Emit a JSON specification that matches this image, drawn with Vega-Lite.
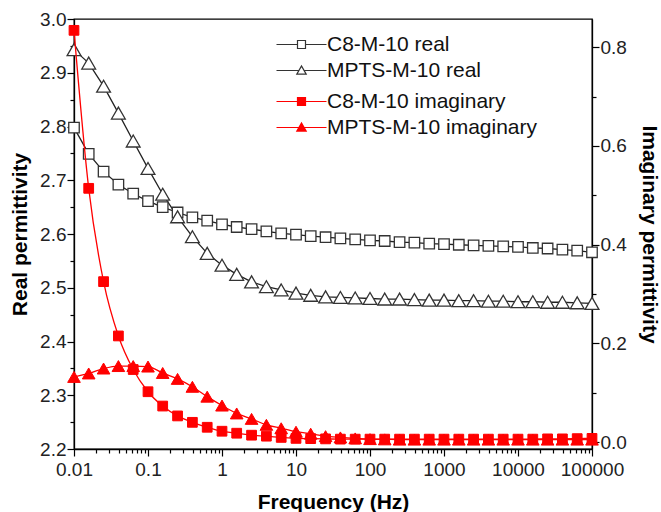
{
  "$schema": "https://vega.github.io/schema/vega-lite/v6.json",
  "width": 518,
  "height": 430,
  "autosize": "none",
  "padding": {"left": 74, "top": 19, "right": 69, "bottom": 63},
  "config": {
    "font": "Liberation Sans",
    "view": {"stroke": "black", "strokeWidth": 1.3},
    "axis": {
      "grid": false, "domainColor": "black", "domainWidth": 1.3, "tickColor": "black", "tickWidth": 1.2,
      "labelColor": "#222", "labelFontSize": 19, "titleFontSize": 21, "titleFontWeight": "bold", "titleColor": "black"
    },
    "legend": {"labelFontSize": 21, "labelColor": "#111", "padding": 0, "labelLimit": 0}
  },
  "datasets": {
    "pts": [
      {"f": 0.01, "s": "C8-M-10 real", "p": "real", "v": 2.798},
      {"f": 0.0158, "s": "C8-M-10 real", "p": "real", "v": 2.749},
      {"f": 0.0251, "s": "C8-M-10 real", "p": "real", "v": 2.716},
      {"f": 0.0398, "s": "C8-M-10 real", "p": "real", "v": 2.692},
      {"f": 0.0631, "s": "C8-M-10 real", "p": "real", "v": 2.675},
      {"f": 0.1, "s": "C8-M-10 real", "p": "real", "v": 2.661},
      {"f": 0.158, "s": "C8-M-10 real", "p": "real", "v": 2.650},
      {"f": 0.251, "s": "C8-M-10 real", "p": "real", "v": 2.640},
      {"f": 0.398, "s": "C8-M-10 real", "p": "real", "v": 2.631},
      {"f": 0.631, "s": "C8-M-10 real", "p": "real", "v": 2.625},
      {"f": 1, "s": "C8-M-10 real", "p": "real", "v": 2.618},
      {"f": 1.58, "s": "C8-M-10 real", "p": "real", "v": 2.613},
      {"f": 2.51, "s": "C8-M-10 real", "p": "real", "v": 2.609},
      {"f": 3.98, "s": "C8-M-10 real", "p": "real", "v": 2.605},
      {"f": 6.31, "s": "C8-M-10 real", "p": "real", "v": 2.601},
      {"f": 10, "s": "C8-M-10 real", "p": "real", "v": 2.599},
      {"f": 15.8, "s": "C8-M-10 real", "p": "real", "v": 2.596},
      {"f": 25.1, "s": "C8-M-10 real", "p": "real", "v": 2.594},
      {"f": 39.8, "s": "C8-M-10 real", "p": "real", "v": 2.592},
      {"f": 63.1, "s": "C8-M-10 real", "p": "real", "v": 2.590},
      {"f": 100, "s": "C8-M-10 real", "p": "real", "v": 2.588},
      {"f": 158, "s": "C8-M-10 real", "p": "real", "v": 2.587},
      {"f": 251, "s": "C8-M-10 real", "p": "real", "v": 2.585},
      {"f": 398, "s": "C8-M-10 real", "p": "real", "v": 2.584},
      {"f": 631, "s": "C8-M-10 real", "p": "real", "v": 2.582},
      {"f": 1000, "s": "C8-M-10 real", "p": "real", "v": 2.581},
      {"f": 1585, "s": "C8-M-10 real", "p": "real", "v": 2.580},
      {"f": 2512, "s": "C8-M-10 real", "p": "real", "v": 2.579},
      {"f": 3981, "s": "C8-M-10 real", "p": "real", "v": 2.578},
      {"f": 6310, "s": "C8-M-10 real", "p": "real", "v": 2.577},
      {"f": 10000, "s": "C8-M-10 real", "p": "real", "v": 2.576},
      {"f": 15850, "s": "C8-M-10 real", "p": "real", "v": 2.574},
      {"f": 25120, "s": "C8-M-10 real", "p": "real", "v": 2.573},
      {"f": 39810, "s": "C8-M-10 real", "p": "real", "v": 2.571},
      {"f": 63100, "s": "C8-M-10 real", "p": "real", "v": 2.569},
      {"f": 100000, "s": "C8-M-10 real", "p": "real", "v": 2.566},

      {"f": 0.01, "s": "MPTS-M-10 real", "p": "real", "v": 2.943},
      {"f": 0.0158, "s": "MPTS-M-10 real", "p": "real", "v": 2.918},
      {"f": 0.0251, "s": "MPTS-M-10 real", "p": "real", "v": 2.875},
      {"f": 0.0398, "s": "MPTS-M-10 real", "p": "real", "v": 2.825},
      {"f": 0.0631, "s": "MPTS-M-10 real", "p": "real", "v": 2.773},
      {"f": 0.1, "s": "MPTS-M-10 real", "p": "real", "v": 2.722},
      {"f": 0.158, "s": "MPTS-M-10 real", "p": "real", "v": 2.674},
      {"f": 0.251, "s": "MPTS-M-10 real", "p": "real", "v": 2.632},
      {"f": 0.398, "s": "MPTS-M-10 real", "p": "real", "v": 2.595},
      {"f": 0.631, "s": "MPTS-M-10 real", "p": "real", "v": 2.564},
      {"f": 1, "s": "MPTS-M-10 real", "p": "real", "v": 2.542},
      {"f": 1.58, "s": "MPTS-M-10 real", "p": "real", "v": 2.525},
      {"f": 2.51, "s": "MPTS-M-10 real", "p": "real", "v": 2.511},
      {"f": 3.98, "s": "MPTS-M-10 real", "p": "real", "v": 2.502},
      {"f": 6.31, "s": "MPTS-M-10 real", "p": "real", "v": 2.496},
      {"f": 10, "s": "MPTS-M-10 real", "p": "real", "v": 2.490},
      {"f": 15.8, "s": "MPTS-M-10 real", "p": "real", "v": 2.486},
      {"f": 25.1, "s": "MPTS-M-10 real", "p": "real", "v": 2.483},
      {"f": 39.8, "s": "MPTS-M-10 real", "p": "real", "v": 2.482},
      {"f": 63.1, "s": "MPTS-M-10 real", "p": "real", "v": 2.481},
      {"f": 100, "s": "MPTS-M-10 real", "p": "real", "v": 2.480},
      {"f": 158, "s": "MPTS-M-10 real", "p": "real", "v": 2.479},
      {"f": 251, "s": "MPTS-M-10 real", "p": "real", "v": 2.479},
      {"f": 398, "s": "MPTS-M-10 real", "p": "real", "v": 2.478},
      {"f": 631, "s": "MPTS-M-10 real", "p": "real", "v": 2.477},
      {"f": 1000, "s": "MPTS-M-10 real", "p": "real", "v": 2.477},
      {"f": 1585, "s": "MPTS-M-10 real", "p": "real", "v": 2.476},
      {"f": 2512, "s": "MPTS-M-10 real", "p": "real", "v": 2.476},
      {"f": 3981, "s": "MPTS-M-10 real", "p": "real", "v": 2.475},
      {"f": 6310, "s": "MPTS-M-10 real", "p": "real", "v": 2.475},
      {"f": 10000, "s": "MPTS-M-10 real", "p": "real", "v": 2.474},
      {"f": 15850, "s": "MPTS-M-10 real", "p": "real", "v": 2.474},
      {"f": 25120, "s": "MPTS-M-10 real", "p": "real", "v": 2.473},
      {"f": 39810, "s": "MPTS-M-10 real", "p": "real", "v": 2.473},
      {"f": 63100, "s": "MPTS-M-10 real", "p": "real", "v": 2.472},
      {"f": 100000, "s": "MPTS-M-10 real", "p": "real", "v": 2.471},

      {"f": 0.01, "s": "C8-M-10 imaginary", "p": "imag", "v": 0.834},
      {"f": 0.0158, "s": "C8-M-10 imaginary", "p": "imag", "v": 0.514},
      {"f": 0.0251, "s": "C8-M-10 imaginary", "p": "imag", "v": 0.325},
      {"f": 0.0398, "s": "C8-M-10 imaginary", "p": "imag", "v": 0.215},
      {"f": 0.0631, "s": "C8-M-10 imaginary", "p": "imag", "v": 0.147},
      {"f": 0.1, "s": "C8-M-10 imaginary", "p": "imag", "v": 0.102},
      {"f": 0.158, "s": "C8-M-10 imaginary", "p": "imag", "v": 0.073},
      {"f": 0.251, "s": "C8-M-10 imaginary", "p": "imag", "v": 0.053},
      {"f": 0.398, "s": "C8-M-10 imaginary", "p": "imag", "v": 0.040},
      {"f": 0.631, "s": "C8-M-10 imaginary", "p": "imag", "v": 0.030},
      {"f": 1, "s": "C8-M-10 imaginary", "p": "imag", "v": 0.022},
      {"f": 1.58, "s": "C8-M-10 imaginary", "p": "imag", "v": 0.018},
      {"f": 2.51, "s": "C8-M-10 imaginary", "p": "imag", "v": 0.014},
      {"f": 3.98, "s": "C8-M-10 imaginary", "p": "imag", "v": 0.012},
      {"f": 6.31, "s": "C8-M-10 imaginary", "p": "imag", "v": 0.0095},
      {"f": 10, "s": "C8-M-10 imaginary", "p": "imag", "v": 0.0075},
      {"f": 15.8, "s": "C8-M-10 imaginary", "p": "imag", "v": 0.007},
      {"f": 25.1, "s": "C8-M-10 imaginary", "p": "imag", "v": 0.0065},
      {"f": 39.8, "s": "C8-M-10 imaginary", "p": "imag", "v": 0.006},
      {"f": 63.1, "s": "C8-M-10 imaginary", "p": "imag", "v": 0.006},
      {"f": 100, "s": "C8-M-10 imaginary", "p": "imag", "v": 0.006},
      {"f": 158, "s": "C8-M-10 imaginary", "p": "imag", "v": 0.006},
      {"f": 251, "s": "C8-M-10 imaginary", "p": "imag", "v": 0.006},
      {"f": 398, "s": "C8-M-10 imaginary", "p": "imag", "v": 0.006},
      {"f": 631, "s": "C8-M-10 imaginary", "p": "imag", "v": 0.006},
      {"f": 1000, "s": "C8-M-10 imaginary", "p": "imag", "v": 0.006},
      {"f": 1585, "s": "C8-M-10 imaginary", "p": "imag", "v": 0.006},
      {"f": 2512, "s": "C8-M-10 imaginary", "p": "imag", "v": 0.006},
      {"f": 3981, "s": "C8-M-10 imaginary", "p": "imag", "v": 0.006},
      {"f": 6310, "s": "C8-M-10 imaginary", "p": "imag", "v": 0.006},
      {"f": 10000, "s": "C8-M-10 imaginary", "p": "imag", "v": 0.006},
      {"f": 15850, "s": "C8-M-10 imaginary", "p": "imag", "v": 0.006},
      {"f": 25120, "s": "C8-M-10 imaginary", "p": "imag", "v": 0.0065},
      {"f": 39810, "s": "C8-M-10 imaginary", "p": "imag", "v": 0.0065},
      {"f": 63100, "s": "C8-M-10 imaginary", "p": "imag", "v": 0.007},
      {"f": 100000, "s": "C8-M-10 imaginary", "p": "imag", "v": 0.0075},

      {"f": 0.01, "s": "MPTS-M-10 imaginary", "p": "imag", "v": 0.132},
      {"f": 0.0158, "s": "MPTS-M-10 imaginary", "p": "imag", "v": 0.139},
      {"f": 0.0251, "s": "MPTS-M-10 imaginary", "p": "imag", "v": 0.149},
      {"f": 0.0398, "s": "MPTS-M-10 imaginary", "p": "imag", "v": 0.154},
      {"f": 0.0631, "s": "MPTS-M-10 imaginary", "p": "imag", "v": 0.154},
      {"f": 0.1, "s": "MPTS-M-10 imaginary", "p": "imag", "v": 0.153},
      {"f": 0.158, "s": "MPTS-M-10 imaginary", "p": "imag", "v": 0.140},
      {"f": 0.251, "s": "MPTS-M-10 imaginary", "p": "imag", "v": 0.128},
      {"f": 0.398, "s": "MPTS-M-10 imaginary", "p": "imag", "v": 0.112},
      {"f": 0.631, "s": "MPTS-M-10 imaginary", "p": "imag", "v": 0.092},
      {"f": 1, "s": "MPTS-M-10 imaginary", "p": "imag", "v": 0.074},
      {"f": 1.58, "s": "MPTS-M-10 imaginary", "p": "imag", "v": 0.058},
      {"f": 2.51, "s": "MPTS-M-10 imaginary", "p": "imag", "v": 0.047},
      {"f": 3.98, "s": "MPTS-M-10 imaginary", "p": "imag", "v": 0.035},
      {"f": 6.31, "s": "MPTS-M-10 imaginary", "p": "imag", "v": 0.028},
      {"f": 10, "s": "MPTS-M-10 imaginary", "p": "imag", "v": 0.021},
      {"f": 15.8, "s": "MPTS-M-10 imaginary", "p": "imag", "v": 0.017},
      {"f": 25.1, "s": "MPTS-M-10 imaginary", "p": "imag", "v": 0.012},
      {"f": 39.8, "s": "MPTS-M-10 imaginary", "p": "imag", "v": 0.0095},
      {"f": 63.1, "s": "MPTS-M-10 imaginary", "p": "imag", "v": 0.0075},
      {"f": 100, "s": "MPTS-M-10 imaginary", "p": "imag", "v": 0.006},
      {"f": 158, "s": "MPTS-M-10 imaginary", "p": "imag", "v": 0.0055},
      {"f": 251, "s": "MPTS-M-10 imaginary", "p": "imag", "v": 0.005},
      {"f": 398, "s": "MPTS-M-10 imaginary", "p": "imag", "v": 0.005},
      {"f": 631, "s": "MPTS-M-10 imaginary", "p": "imag", "v": 0.005},
      {"f": 1000, "s": "MPTS-M-10 imaginary", "p": "imag", "v": 0.005},
      {"f": 1585, "s": "MPTS-M-10 imaginary", "p": "imag", "v": 0.005},
      {"f": 2512, "s": "MPTS-M-10 imaginary", "p": "imag", "v": 0.005},
      {"f": 3981, "s": "MPTS-M-10 imaginary", "p": "imag", "v": 0.005},
      {"f": 6310, "s": "MPTS-M-10 imaginary", "p": "imag", "v": 0.005},
      {"f": 10000, "s": "MPTS-M-10 imaginary", "p": "imag", "v": 0.005},
      {"f": 15850, "s": "MPTS-M-10 imaginary", "p": "imag", "v": 0.005},
      {"f": 25120, "s": "MPTS-M-10 imaginary", "p": "imag", "v": 0.005},
      {"f": 39810, "s": "MPTS-M-10 imaginary", "p": "imag", "v": 0.005},
      {"f": 63100, "s": "MPTS-M-10 imaginary", "p": "imag", "v": 0.005},
      {"f": 100000, "s": "MPTS-M-10 imaginary", "p": "imag", "v": 0.005}
    ]
  },
  "data": {"name": "pts"},
  "encoding": {
    "x": {
      "field": "f", "type": "quantitative",
      "scale": {"type": "log", "domain": [0.01, 100000], "nice": false},
      "axis": {
        "title": "Frequency (Hz)", "titlePadding": 12, "labelPadding": 4,
        "values": [0.01,0.02,0.03,0.04,0.05,0.06,0.07,0.08,0.09,0.1,0.2,0.3,0.4,0.5,0.6,0.7,0.8,0.9,1,2,3,4,5,6,7,8,9,10,20,30,40,50,60,70,80,90,100,200,300,400,500,600,700,800,900,1000,2000,3000,4000,5000,6000,7000,8000,9000,10000,20000,30000,40000,50000,60000,70000,80000,90000,100000],
        "labelExpr": "indexof([0.01,0.1,1,10,100,1000,10000,100000], datum.value) >= 0 ? (datum.value < 1 ? toString(datum.value) : format(datum.value, 'd')) : ''",
        "tickSize": {"condition": {"test": "indexof([0.01,0.1,1,10,100,1000,10000,100000], datum.value) >= 0", "value": 7}, "value": 4},
        "labelOverlap": false, "labelFlush": false
      }
    }
  },
  "layer": [
    {
      "transform": [{"filter": "datum.p == 'real'"}],
      "encoding": {
        "y": {
          "field": "v", "type": "quantitative",
          "scale": {"domain": [2.2, 3.0], "nice": false, "zero": false},
          "axis": {
            "title": "Real permittivity", "orient": "left", "titlePadding": 9, "labelPadding": 1,
            "values": [2.2,2.25,2.3,2.35,2.4,2.45,2.5,2.55,2.6,2.65,2.7,2.75,2.8,2.85,2.9,2.95,3.0],
            "labelExpr": "abs(datum.value*10 - round(datum.value*10)) < 0.001 ? format(datum.value, '.1f') : ''",
            "tickSize": {"condition": {"test": "abs(datum.value*10 - round(datum.value*10)) < 0.001", "value": 7}, "value": 4},
            "labelOverlap": false, "labelFlush": false
          }
        }
      },
      "layer": [
        {
          "mark": {"type": "line", "color": "#222", "strokeWidth": 1.3},
          "encoding": {"detail": {"field": "s"}}
        },
        {
          "transform": [{"filter": "datum.s == 'C8-M-10 real'"}],
          "mark": {"type": "point", "shape": "square", "filled": true, "fill": "white", "stroke": "#333", "strokeWidth": 1.3, "opacity": 1, "size": 110}
        },
        {
          "transform": [{"filter": "datum.s == 'MPTS-M-10 real'"}],
          "mark": {"type": "point", "shape": "triangle-up", "filled": true, "fill": "white", "stroke": "#333", "strokeWidth": 1.3, "opacity": 1, "size": 190}
        },
        {
          "transform": [{"filter": "datum.p == 'legend-only'"}],
          "mark": {"type": "point", "filled": true, "color": "#333", "fill": "#333"},
          "encoding": {
            "shape": {
              "field": "s", "type": "nominal",
              "scale": {"domain": ["C8-M-10 real", "MPTS-M-10 real"],
                        "range": [
                          "M-5,-0.12H-0.8V0.12H-5ZM0.8,-0.12H5V0.12H0.8ZM-0.92,-0.92H0.92V0.92H-0.92ZM-0.68,-0.68V0.68H0.68V-0.68Z",
                          "M-5,-0.12H-0.55V0.12H-5ZM0.55,-0.12H5V0.12H0.55ZM0,-1.15L1.15,0.85H-1.15ZM0,-0.65L-0.72,0.61H0.72Z"
                        ]},
              "legend": {
                "title": null, "orient": "none", "legendX": 217, "legendY": 15,
                "symbolSize": 100, "labelOffset": 15, "rowPadding": 4, "symbolOpacity": 1,
                "symbolFillColor": "#333", "symbolStrokeWidth": 0
              }
            }
          }
        }
      ]
    },
    {
      "transform": [{"filter": "datum.p == 'imag'"}],
      "encoding": {
        "y": {
          "field": "v", "type": "quantitative",
          "scale": {"domain": [-0.014, 0.857], "nice": false, "zero": false},
          "axis": {
            "title": "Imaginary permittivity", "orient": "right", "titlePadding": 12, "labelPadding": 1,
            "values": [0, 0.1, 0.2, 0.3, 0.4, 0.5, 0.6, 0.7, 0.8],
            "labelExpr": "abs(datum.value*5 - round(datum.value*5)) < 0.001 ? format(datum.value, '.1f') : ''",
            "tickSize": {"condition": {"test": "abs(datum.value*5 - round(datum.value*5)) < 0.001", "value": 7}, "value": 4},
            "labelOverlap": false, "labelFlush": false
          }
        }
      },
      "layer": [
        {
          "mark": {"type": "line", "color": "#ff0000", "strokeWidth": 1.3, "interpolate": "monotone"},
          "encoding": {"detail": {"field": "s"}}
        },
        {
          "transform": [{"filter": "datum.s == 'C8-M-10 imaginary'"}],
          "mark": {"type": "point", "shape": "square", "filled": true, "fill": "#ff0000", "stroke": "#ff0000", "strokeWidth": 1, "opacity": 1, "size": 95}
        },
        {
          "transform": [{"filter": "datum.s == 'MPTS-M-10 imaginary'"}],
          "mark": {"type": "point", "shape": "triangle-up", "filled": true, "fill": "#ff0000", "stroke": "#ff0000", "strokeWidth": 1, "opacity": 1, "size": 160}
        },
        {
          "transform": [{"filter": "datum.p == 'legend-only'"}],
          "mark": {"type": "point", "filled": true, "color": "#ff0000", "fill": "#ff0000"},
          "encoding": {
            "shape": {
              "field": "s", "type": "nominal",
              "scale": {"domain": ["C8-M-10 imaginary", "MPTS-M-10 imaginary"],
                        "range": [
                          "M-5,-0.12H-0.8V0.12H-5ZM0.8,-0.12H5V0.12H0.8ZM-0.92,-0.92H0.92V0.92H-0.92Z",
                          "M-5,-0.12H-0.55V0.12H-5ZM0.55,-0.12H5V0.12H0.55ZM0,-1.15L1.15,0.85H-1.15Z"
                        ]},
              "legend": {
                "title": null, "orient": "none", "legendX": 217, "legendY": 72,
                "symbolSize": 100, "labelOffset": 15, "rowPadding": 4, "symbolOpacity": 1,
                "symbolFillColor": "#ff0000", "symbolStrokeWidth": 0
              }
            }
          }
        }
      ]
    }
  ],
  "resolve": {"scale": {"y": "independent", "shape": "independent"}, "legend": {"shape": "independent"}}
}
